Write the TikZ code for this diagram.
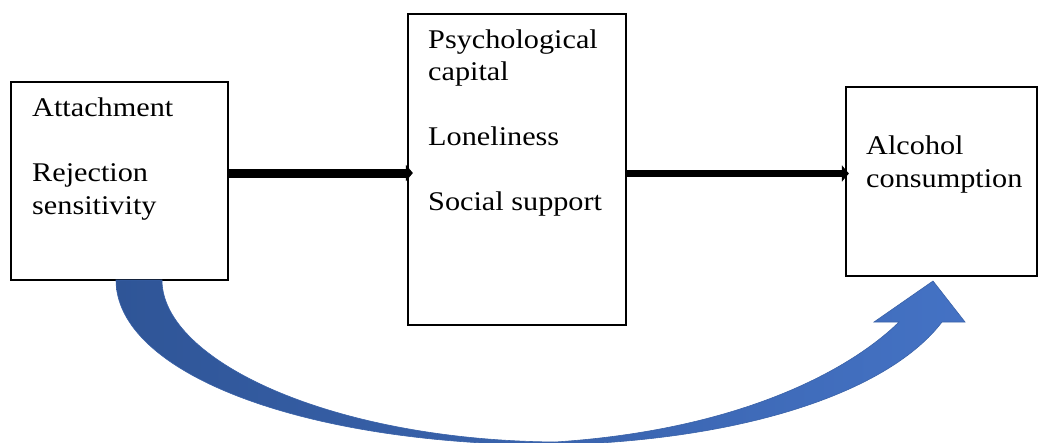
\documentclass[tikz,border=0pt]{standalone}
\usepackage{fontspec}
\setmainfont[FakeStretch=1.12]{Liberation Serif}
\usetikzlibrary{arrows.meta}
\definecolor{arcdark}{HTML}{2F5597}
\definecolor{arclight}{HTML}{4472C4}
\definecolor{arcline}{HTML}{3A62A8}

\begin{document}
\begin{tikzpicture}[x=1pt,y=-1pt,
    box/.style={draw=black, line width=2.2pt, inner sep=0pt},
    txt/.style={anchor=base west, align=left, inner sep=0pt,
      font=\fontsize{27}{32.5}\selectfont},
    flow/.style={draw=black, -{Triangle[length=7pt,width=16pt]}}]
    \useasboundingbox (0,0) rectangle (1048,442);
    % boxes
    \node[box, minimum width=217, minimum height=198] (src) at (119.5,181) {};
    \node[box, minimum width=218, minimum height=311] (med) at (517,169.5) {};
    \node[box, minimum width=191, minimum height=189] (out) at (941.5,181.5) {};
    % texts (placed by the baseline of their last line)
    \node[txt] (srctxt) at (32,214) {Attachment\\[32.5pt]Rejection\\sensitivity};
    \node[txt] (medtxt) at (428,210.5) {Psychological\\capital\\[32.5pt]Loneliness\\[32.5pt]Social support};
    \node[txt] (outtxt) at (866,187) {Alcohol\\consumption};
    % straight arrows
    \draw[flow, line width=9pt, shorten >=-6pt] ([yshift=8pt]src.east) -- ([yshift=-3.5pt]med.west);
    \draw[flow, line width=7pt, shorten >=-4pt] ([yshift=-4pt]med.east) -- ([yshift=8pt]out.west);
    % curved block arrow
    \path[left color=arcdark, right color=arclight, draw=arcline, line width=0.6pt]
      (116,280) .. controls (116,372) and (300,445) .. (555,445)
      .. controls (750,440) and (890,390) .. (942,322)
      -- (965,322) -- (933,281) -- (874,322) -- (899,322)
      .. controls (850,370) and (740,430) .. (555,442)
      .. controls (330,440) and (162,360) .. (162,280) -- cycle;
\end{tikzpicture}
\end{document}
